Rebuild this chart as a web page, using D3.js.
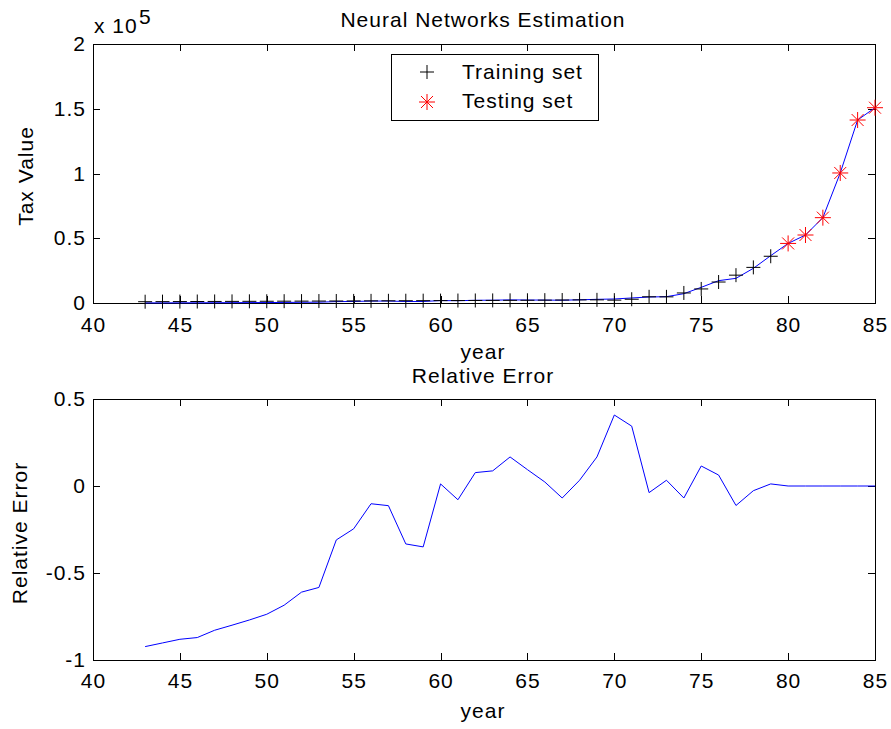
<!DOCTYPE html>
<html>
<head>
<meta charset="utf-8">
<script src="https://cdn.jsdelivr.net/npm/d3@7"></script>
<style>
  body { margin: 0; background: #fff; }
  svg { display: block; }
  text { font-family: "Liberation Sans", Arial, sans-serif; font-size: 21px; letter-spacing: 1px; fill: #000; }
</style>
</head>
<body>
<div id="chart"></div>
<script>
// years 1943..1985 as on the x axis
var years = [43, 44, 45, 46, 47, 48, 49, 50, 51, 52, 53, 54, 55, 56, 57, 58, 59, 60, 61, 62, 63,
  64, 65, 66, 67, 68, 69, 70, 71, 72, 73, 74, 75, 76, 77, 78, 79, 80, 81, 82, 83, 84, 85];

// actual tax value (markers)
var actualTax = [1000, 1050, 1100, 1150, 1200, 1250, 1300, 1350, 1400, 1450, 1500, 1550, 1600, 1650,
  1700, 1750, 1800, 1850, 1900, 1950, 2000, 2050, 2100, 2200, 2300, 2400, 2430, 2200, 2900, 4800,
  4750, 7750, 10850, 16200, 21500, 27500, 36100, 46000, 52500, 65900, 100400, 141300, 150800];

// network estimate (blue line)
var estimatedTax = [80, 100, 130, 150, 200, 250, 300, 350, 440, 560, 630, 1070, 1200, 1480, 1510,
  1170, 1170, 1870, 1750, 2100, 2170, 2390, 2300, 2250, 2140, 2480, 2830, 3100, 3880, 4630, 4890,
  7200, 12100, 17250, 19050, 26770, 36550, 46000, 52500, 65900, 100400, 141300, 150800];

var relError = [-0.923, -0.902, -0.881, -0.871, -0.829, -0.80, -0.77, -0.737, -0.685, -0.61, -0.583,
  -0.31, -0.246, -0.102, -0.113, -0.333, -0.35, 0.012, -0.079, 0.077, 0.087, 0.167, 0.094, 0.023,
  -0.069, 0.033, 0.167, 0.408, 0.344, -0.038, 0.033, -0.069, 0.115, 0.063, -0.112, -0.027, 0.012,
  0, 0, 0, 0, 0, 0];

var testStart = 80; // years from 80 on are the testing set

var xTicks = [40, 45, 50, 55, 60, 65, 70, 75, 80, 85];
var taxTicks = [0, 50000, 100000, 150000, 200000];
var taxTickLabels = ["0", "0.5", "1", "1.5", "2"];
var errTicks = [-1, -0.5, 0, 0.5];
var errTickLabels = ["-1", "-0.5", "0", "0.5"];

var width = 891, height = 729;
var left = 93, right = 875;
var tick = 7;

var svg = d3.select("#chart").append("svg").attr("width", width).attr("height", height);

var x = d3.scaleLinear().domain([40, 85]).range([left, right]);
var yTop = d3.scaleLinear().domain([0, 200000]).range([303, 44]);
var yBot = d3.scaleLinear().domain([-1, 0.5]).range([660, 399]);

function drawAxes(y, yTicks, yLabels, top, bottom, xPad) {
  var g = svg.append("g");
  g.append("rect").attr("x", left).attr("y", top).attr("width", right - left).attr("height", bottom - top)
    .attr("fill", "none").attr("stroke", "#000").attr("shape-rendering", "crispEdges");

  var ax = g.append("g").attr("transform", "translate(0," + bottom + ")")
    .call(d3.axisBottom(x).tickValues(xTicks).tickSizeInner(-tick).tickSizeOuter(0).tickPadding(xPad).tickFormat(d3.format("d")));
  var axT = g.append("g").attr("transform", "translate(0," + top + ")")
    .call(d3.axisTop(x).tickValues(xTicks).tickSizeInner(-tick).tickSizeOuter(0).tickFormat(""));
  var ay = g.append("g").attr("transform", "translate(" + left + ",0)")
    .call(d3.axisLeft(y).tickValues(yTicks).tickSizeInner(-tick).tickSizeOuter(0).tickPadding(7)
      .tickFormat(function (d, i) { return yLabels[i]; }));
  var ayR = g.append("g").attr("transform", "translate(" + right + ",0)")
    .call(d3.axisRight(y).tickValues(yTicks).tickSizeInner(-tick).tickSizeOuter(0).tickFormat(""));

  [ax, axT, ay, ayR].forEach(function (a) {
    a.select(".domain").remove();
    a.selectAll("line").attr("stroke", "#000").attr("shape-rendering", "crispEdges");
    a.selectAll("text").attr("font-size", null).attr("font-family", null).attr("fill", "#000");
  });
}

drawAxes(yTop, taxTicks, taxTickLabels, 44, 303, 14);
drawAxes(yBot, errTicks, errTickLabels, 399, 660, 13);

// top panel
var line = d3.line().x(function (d, i) { return x(years[i]); });

svg.append("path").datum(estimatedTax)
  .attr("d", line.y(function (d) { return yTop(d); }))
  .attr("fill", "none").attr("stroke", "#0000ff").attr("stroke-width", 1);

var plusPath = "M-7,0H7M0,-7V7";
var starPath = "M-8,0H8M0,-8V8M-6,-6L6,6M-6,6L6,-6";

var pts = years.map(function (yr, i) { return { year: yr, v: actualTax[i] }; });

svg.append("g").selectAll("path")
  .data(pts.filter(function (d) { return d.year < testStart; }))
  .join("path")
  .attr("transform", function (d) { return "translate(" + x(d.year) + "," + yTop(d.v) + ")"; })
  .attr("d", plusPath).attr("stroke", "#000").attr("fill", "none");

svg.append("g").selectAll("path")
  .data(pts.filter(function (d) { return d.year >= testStart; }))
  .join("path")
  .attr("transform", function (d) { return "translate(" + x(d.year) + "," + yTop(d.v) + ")"; })
  .attr("d", starPath).attr("stroke", "#ff0000").attr("fill", "none");

// bottom panel
svg.append("path").datum(relError)
  .attr("d", d3.line().x(function (d, i) { return x(years[i]); }).y(function (d) { return yBot(d); }))
  .attr("fill", "none").attr("stroke", "#0000ff").attr("stroke-width", 1);

// legend
var leg = svg.append("g");
leg.append("rect").attr("x", 391).attr("y", 54).attr("width", 207).attr("height", 66)
  .attr("fill", "#fff").attr("stroke", "#000").attr("shape-rendering", "crispEdges");
leg.append("path").attr("transform", "translate(427,72)").attr("d", plusPath).attr("stroke", "#000").attr("fill", "none");
leg.append("path").attr("transform", "translate(427,102)").attr("d", starPath).attr("stroke", "#ff0000").attr("fill", "none");
leg.append("text").attr("x", 462).attr("y", 79).text("Training set");
leg.append("text").attr("x", 462).attr("y", 108).text("Testing set");

// titles and labels
svg.append("text").attr("x", 483).attr("y", 27).attr("text-anchor", "middle").text("Neural Networks Estimation");
svg.append("text").attr("x", 94).attr("y", 33).text("x 10");
svg.append("text").attr("x", 139).attr("y", 24).text("5");
svg.append("text").attr("transform", "translate(33,176) rotate(-90)").attr("text-anchor", "middle").text("Tax Value");
svg.append("text").attr("x", 483).attr("y", 359).attr("text-anchor", "middle").text("year");

svg.append("text").attr("x", 483).attr("y", 383).attr("text-anchor", "middle").text("Relative Error");
svg.append("text").attr("transform", "translate(27,533) rotate(-90)").attr("text-anchor", "middle").text("Relative Error");
svg.append("text").attr("x", 483).attr("y", 718).attr("text-anchor", "middle").text("year");
</script>
</body>
</html>
